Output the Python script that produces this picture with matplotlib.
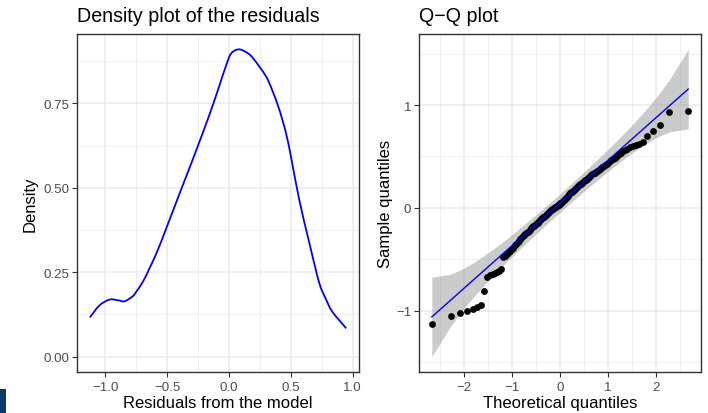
import matplotlib
matplotlib.use("Agg")
import matplotlib.pyplot as plt
from matplotlib.patches import Rectangle, PathPatch
from matplotlib.path import Path
from statistics import NormalDist
import numpy as np

# ---------------- data ----------------
density_x = [-1.125, -1.046, -0.965, -0.898, -0.844, -0.777, -0.75, -0.697, -0.643,
             -0.576, -0.508, -0.441, -0.374, -0.306, -0.24, -0.185, -0.132, -0.078,
             -0.024, 0.016, 0.077, 0.137, 0.19, 0.298, 0.352, 0.406, 0.46, 0.5,
             0.567, 0.648, 0.728, 0.782, 0.836, 0.948]
density_y = [0.116, 0.152, 0.169, 0.167, 0.164, 0.179, 0.192, 0.221, 0.261,
             0.315, 0.379, 0.443, 0.507, 0.571, 0.635, 0.689, 0.743, 0.802,
             0.861, 0.897, 0.910, 0.902, 0.886, 0.831, 0.787, 0.733, 0.664, 0.595,
             0.467, 0.340, 0.221, 0.172, 0.133, 0.084]

sample_quantiles = [
    -1.125, -1.05, -1.02, -1.003, -0.987, -0.967, -0.945, -0.81, -0.67, -0.655,
    -0.64, -0.63, -0.62, -0.61, -0.595, -0.48, -0.465, -0.45, -0.43, -0.415,
    -0.40, -0.385, -0.365, -0.35, -0.335, -0.32, -0.305, -0.29, -0.278, -0.265,
    -0.25, -0.24, -0.235, -0.225, -0.21, -0.195, -0.185, -0.178, -0.172, -0.165,
    -0.158, -0.15, -0.142, -0.132, -0.12, -0.108, -0.098, -0.09, -0.085, -0.08,
    -0.072, -0.062, -0.05, -0.04, -0.03, -0.022, -0.015, -0.01, -0.004, 0.004,
    0.012, 0.02, 0.025, 0.03, 0.036, 0.044, 0.052, 0.06, 0.07, 0.078,
    0.086, 0.096, 0.108, 0.12, 0.132, 0.142, 0.15, 0.158, 0.166, 0.174,
    0.184, 0.194, 0.204, 0.212, 0.22, 0.228, 0.236, 0.244, 0.252, 0.26,
    0.268, 0.276, 0.284, 0.292, 0.30, 0.314, 0.322, 0.33, 0.336, 0.342,
    0.348, 0.356, 0.365, 0.374, 0.384, 0.394, 0.404, 0.414, 0.424, 0.44,
    0.452, 0.465, 0.478, 0.49, 0.505, 0.52, 0.535, 0.55, 0.562, 0.575,
    0.59, 0.605, 0.615, 0.625, 0.645, 0.695, 0.745, 0.805, 0.935, 0.945,
]

left_xticks = [-1.0, -0.5, 0.0, 0.5, 1.0]
left_yticks = [0.00, 0.25, 0.50, 0.75]
right_xticks = [-2, -1, 0, 1, 2]
right_yticks = [-1, 0, 1]
conf_level = 0.95

# ---------------- styling ----------------
plt.rcParams["font.family"] = ["Liberation Sans", "DejaVu Sans"]
TITLE_FS = 14.1
LABEL_FS = 12
TICK_FS = 9.6
BORDER = "#333333"
GRID = "#EBEBEB"
TICKLAB = "#4D4D4D"

W, H = 708, 414
fig = plt.figure(figsize=(W / 100, H / 100), dpi=100)

def px_axes(x0, x1, top, bottom):
    return fig.add_axes([x0 / W, 1 - bottom / H, (x1 - x0) / W, (bottom - top) / H])

def style(ax, xmaj, ymaj, xmin_, ymin_, xfmt, yfmt):
    ax.set_facecolor("white")
    ax.set_xticks(xmaj)
    ax.set_yticks(ymaj)
    ax.set_xticks(xmin_, minor=True)
    ax.set_yticks(ymin_, minor=True)
    ax.set_xticklabels([xfmt(v) for v in xmaj])
    ax.set_yticklabels([yfmt(v) for v in ymaj])
    ax.grid(True, which="major", color=GRID, linewidth=1.1, zorder=0)
    ax.grid(True, which="minor", color=GRID, linewidth=0.55, zorder=0)
    ax.set_axisbelow(True)
    for s in ax.spines.values():
        s.set_color(BORDER)
        s.set_linewidth(1.0)
    ax.tick_params(which="major", length=3.6, width=0.8, color=BORDER,
                   labelsize=TICK_FS, labelcolor=TICKLAB)
    ax.tick_params(axis="x", which="major", pad=2.8)
    ax.tick_params(axis="y", which="major", pad=2.0)
    ax.tick_params(which="minor", length=0)

def fmt_num(d):
    def f(v):
        s = f"{v:.{d}f}"
        return s.replace("-", "\u2212")
    return f

def smooth_path(xs, ys):
    """Smooth curve through the given points (Catmull-Rom as cubic Bezier)."""
    P = np.column_stack([xs, ys])
    verts = [P[0]]
    codes = [Path.MOVETO]
    for i in range(len(P) - 1):
        p0 = P[i - 1] if i > 0 else P[i]
        p1, p2 = P[i], P[i + 1]
        p3 = P[i + 2] if i + 2 < len(P) else P[i + 1]
        c1 = p1 + (p2 - p0) / 6.0
        c2 = p2 - (p3 - p1) / 6.0
        verts += [c1, c2, p2]
        codes += [Path.CURVE4] * 3
    return Path(verts, codes)

# ---------------- left: density ----------------
ax1 = px_axes(77, 359, 35, 373)
dx0, dx1 = min(density_x), max(density_x)
rx = dx1 - dx0
dy1 = max(density_y)
ax1.set_xlim(dx0 - 0.05 * rx, dx1 + 0.05 * rx)
ax1.set_ylim(-0.05 * dy1, dy1 * 1.05)
ax1.add_patch(PathPatch(smooth_path(density_x, density_y), facecolor="none",
                        edgecolor="#0000FF", linewidth=1.3, zorder=3,
                        transform=ax1.transData))
style(ax1, left_xticks, left_yticks,
      [-0.75, -0.25, 0.25, 0.75], [0.125, 0.375, 0.625, 0.875],
      fmt_num(1), fmt_num(2))
ax1.set_xlabel("Residuals from the model", fontsize=LABEL_FS, labelpad=1.5)
ax1.set_ylabel("Density", fontsize=LABEL_FS, labelpad=4)
ax1.text(0, 1 + 13.3 / 338, "Density plot of the residuals", transform=ax1.transAxes,
         fontsize=TITLE_FS, ha="left", va="baseline")

# ---------------- right: Q-Q ----------------
nd = NormalDist()
n = len(sample_quantiles)
ys = np.sort(np.array(sample_quantiles))
pp = (np.arange(1, n + 1) - 0.5) / n
theo = np.array([nd.inv_cdf(p) for p in pp])
q1, q3 = np.quantile(ys, [0.25, 0.75])
z1, z3 = nd.inv_cdf(0.25), nd.inv_cdf(0.75)
slope = (q3 - q1) / (z3 - z1)
intercept = q1 - slope * z1
fit = intercept + slope * theo
zz = nd.inv_cdf(1 - (1 - conf_level) / 2)
dens = np.array([nd.pdf(t) for t in theo])
se = (slope / dens) * np.sqrt(pp * (1 - pp) / n)
upper = fit + zz * se
lower = fit - zz * se

ax2 = px_axes(419, 701, 35, 373)
tx0, tx1 = theo.min(), theo.max()
rt = tx1 - tx0
ylo = min(lower.min(), ys.min())
yhi = max(upper.max(), ys.max())
ry = yhi - ylo
ax2.set_xlim(tx0 - 0.05 * rt, tx1 + 0.05 * rt)
ax2.set_ylim(ylo - 0.05 * ry, yhi + 0.05 * ry)
ax2.fill_between(theo, lower, upper, color="#999999", alpha=0.5, linewidth=0, zorder=1)
ax2.scatter(theo, ys, s=24, color="black", linewidths=0, zorder=2)
ax2.plot(theo, fit, color="#0000FF", linewidth=1.0, zorder=3)
style(ax2, right_xticks, right_yticks,
      [-2.5, -1.5, -0.5, 0.5, 1.5, 2.5], [-1.5, -0.5, 0.5, 1.5],
      fmt_num(0), fmt_num(0))
ax2.set_xlabel("Theoretical quantiles", fontsize=LABEL_FS, labelpad=1.5)
ax2.set_ylabel("Sample quantiles", fontsize=LABEL_FS, labelpad=2.0)
ax2.text(0, 1 + 13.3 / 338, "Q\u2212Q plot", transform=ax2.transAxes,
         fontsize=TITLE_FS, ha="left", va="baseline")

# dark corner block at the lower left of the image
fig.patches.append(Rectangle((0, 0), 6 / W, 24 / H, transform=fig.transFigure,
                             facecolor="#0B3A6A", edgecolor="none", zorder=5))

fig.savefig("out.png", dpi=100, facecolor="white")
